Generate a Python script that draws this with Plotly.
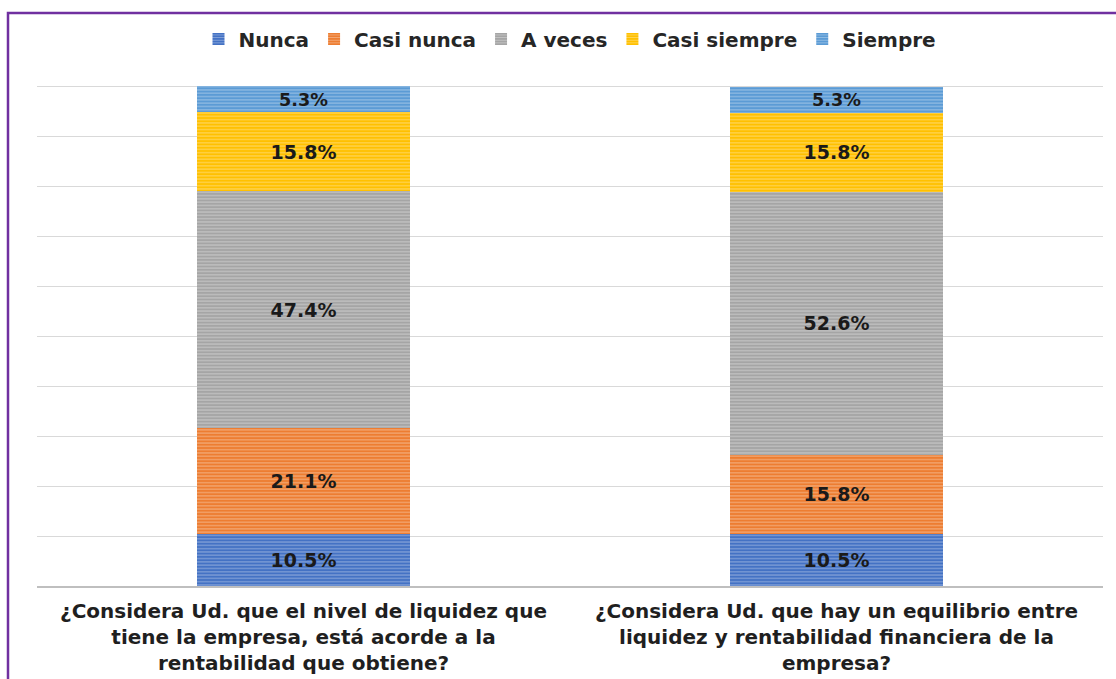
import plotly.graph_objects as go

preguntas = [
    "¿Considera Ud. que el nivel de liquidez que<br>tiene la empresa, está acorde a la<br>rentabilidad que obtiene?",
    "¿Considera Ud. que hay un equilibrio entre<br>liquidez y rentabilidad financiera de la<br>empresa?",
]
nunca = [10.5, 10.5]
casi_nunca = [21.1, 15.8]
a_veces = [47.4, 52.6]
casi_siempre = [15.8, 15.8]
siempre = [5.3, 5.3]

series = [
    ("Nunca", nunca, "#4472C4"),
    ("Casi nunca", casi_nunca, "#ED7D31"),
    ("A veces", a_veces, "#A5A5A5"),
    ("Casi siempre", casi_siempre, "#FFC000"),
    ("Siempre", siempre, "#5B9BD5"),
]

FONT = "DejaVu Sans"

fig = go.Figure()
for name, vals, col in series:
    fig.add_trace(go.Bar(
        x=preguntas, y=vals, name=name,
        marker=dict(color=col, line=dict(width=0),
                    pattern=dict(shape="-", fgcolor="white", fgopacity=0.35,
                                 size=3.3, solidity=0.35)),
        texttemplate="%{y:.1f}%", textposition="inside",
        insidetextanchor="middle", textangle=0,
        insidetextfont=dict(family=FONT, size=19, color="#1a1a1a", weight="bold"),
        width=0.4,
    ))

fig.update_layout(
    barmode="stack",
    width=1116, height=679,
    margin=dict(l=37, r=13, t=85, b=93),
    plot_bgcolor="white", paper_bgcolor="white",
    font=dict(family=FONT, color="#262626"),
    legend=dict(orientation="h", x=0.5, xanchor="center", y=1.092, yanchor="middle",
                traceorder="normal",
                font=dict(family=FONT, size=20, color="#262626", weight="bold"),
                itemwidth=30),
    showlegend=True,
)
fig.update_yaxes(range=[0, 100.3], tickvals=list(range(10, 101, 10)), showticklabels=False,
                 showgrid=True, gridcolor="#d9d9d9", gridwidth=1,
                 zeroline=False, showline=False)
fig.update_xaxes(showline=True, linecolor="#bfbfbf", linewidth=2, automargin=False,
                 tickfont=dict(family=FONT, size=20, color="#1f1f1f", weight="bold"),
                 ticks="", showgrid=False, ticklabelstandoff=6)

fig.add_shape(type="rect", xref="paper", yref="paper",
              x0=(8 - 37) / 1066, x1=1.1, y0=-0.4, y1=(586 - 13) / 501,
              line=dict(color="#7030A0", width=2.5), fillcolor="rgba(0,0,0,0)")

fig.write_html("out.html", config={"displayModeBar": False},
               post_script="document.body.style.margin='0';")
